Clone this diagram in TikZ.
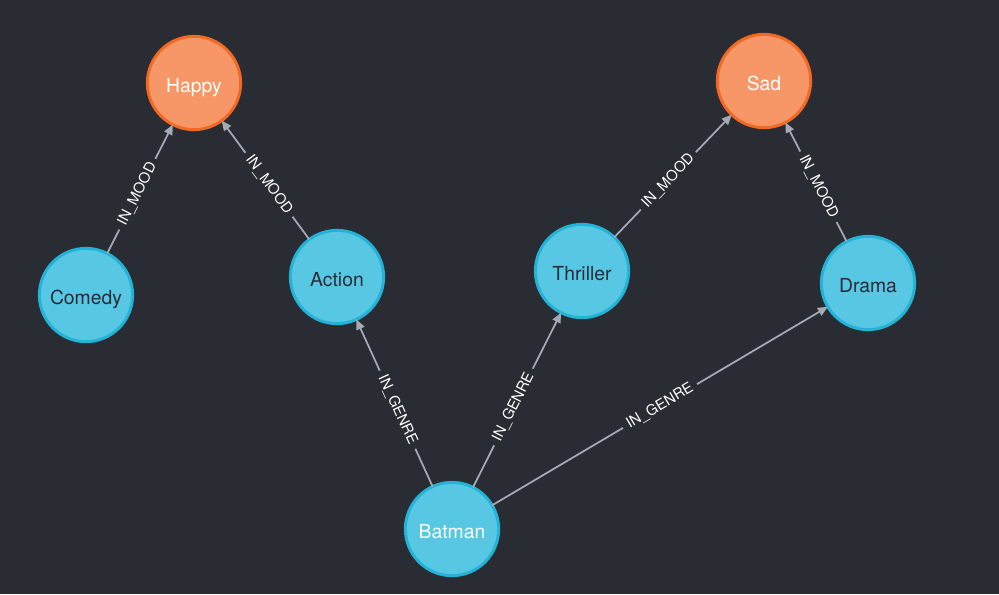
\documentclass[tikz,border=0pt]{standalone}
\usepackage{fontspec}
\setmainfont{TeX Gyre Heros}
\usetikzlibrary{arrows.meta}

\definecolor{bgdark}{HTML}{292C33}
\definecolor{genrefill}{HTML}{57C7E3}
\definecolor{genreline}{HTML}{23B3D7}
\definecolor{moodfill}{HTML}{F79767}
\definecolor{moodline}{HTML}{F36924}
\definecolor{relgray}{HTML}{A5ABB6}
\definecolor{darktext}{HTML}{2A2C34}

\begin{document}
\begin{tikzpicture}[x=0.75pt, y=-0.75pt, >={Triangle[length=7.5pt, width=6.5pt]},
	genre/.style={circle, fill=genrefill, draw=genreline, line width=2.2pt, minimum size=70pt, inner sep=0pt, outer sep=0pt, text=darktext, text height=14pt, text depth=0pt, font=\fontsize{14.5}{16}\selectfont},
	mood/.style={genre, fill=moodfill, draw=moodline, text=white},
	rel/.style={->, draw=relgray, line width=1.3pt},
	lbl/.style={sloped, pos=0.46, fill=bgdark, text=white, inner xsep=4pt, inner ysep=1pt, font=\fontsize{11}{12}\selectfont}]
	\fill[bgdark] (0,0) rectangle (999,594);
	% moods
	\node[mood] (happy) at (194,83) {Happy};
	\node[mood] (sad) at (764,81) {Sad};
	% genres
	\node[genre] (comedy) at (86,295) {Comedy};
	\node[genre] (action) at (337,277) {Action};
	\node[genre] (thriller) at (582,271) {Thriller};
	\node[genre] (drama) at (868,283) {Drama};
	\node[genre, text=white] (batman) at (452,529) {Batman};
	% relations
	\draw[rel] (comedy) -- node[lbl] {IN\_MOOD} (happy);
	\draw[rel] (action) -- node[lbl] {IN\_MOOD} (happy);
	\draw[rel] (thriller) -- node[lbl] {IN\_MOOD} (sad);
	\draw[rel] (drama) -- node[lbl] {IN\_MOOD} (sad);
	\draw[rel] (batman) -- node[lbl] {IN\_GENRE} (action);
	\draw[rel] (batman) -- node[lbl] {IN\_GENRE} (thriller);
	\draw[rel] (batman) -- node[lbl, pos=0.5] {IN\_GENRE} (drama);
\end{tikzpicture}
\end{document}
